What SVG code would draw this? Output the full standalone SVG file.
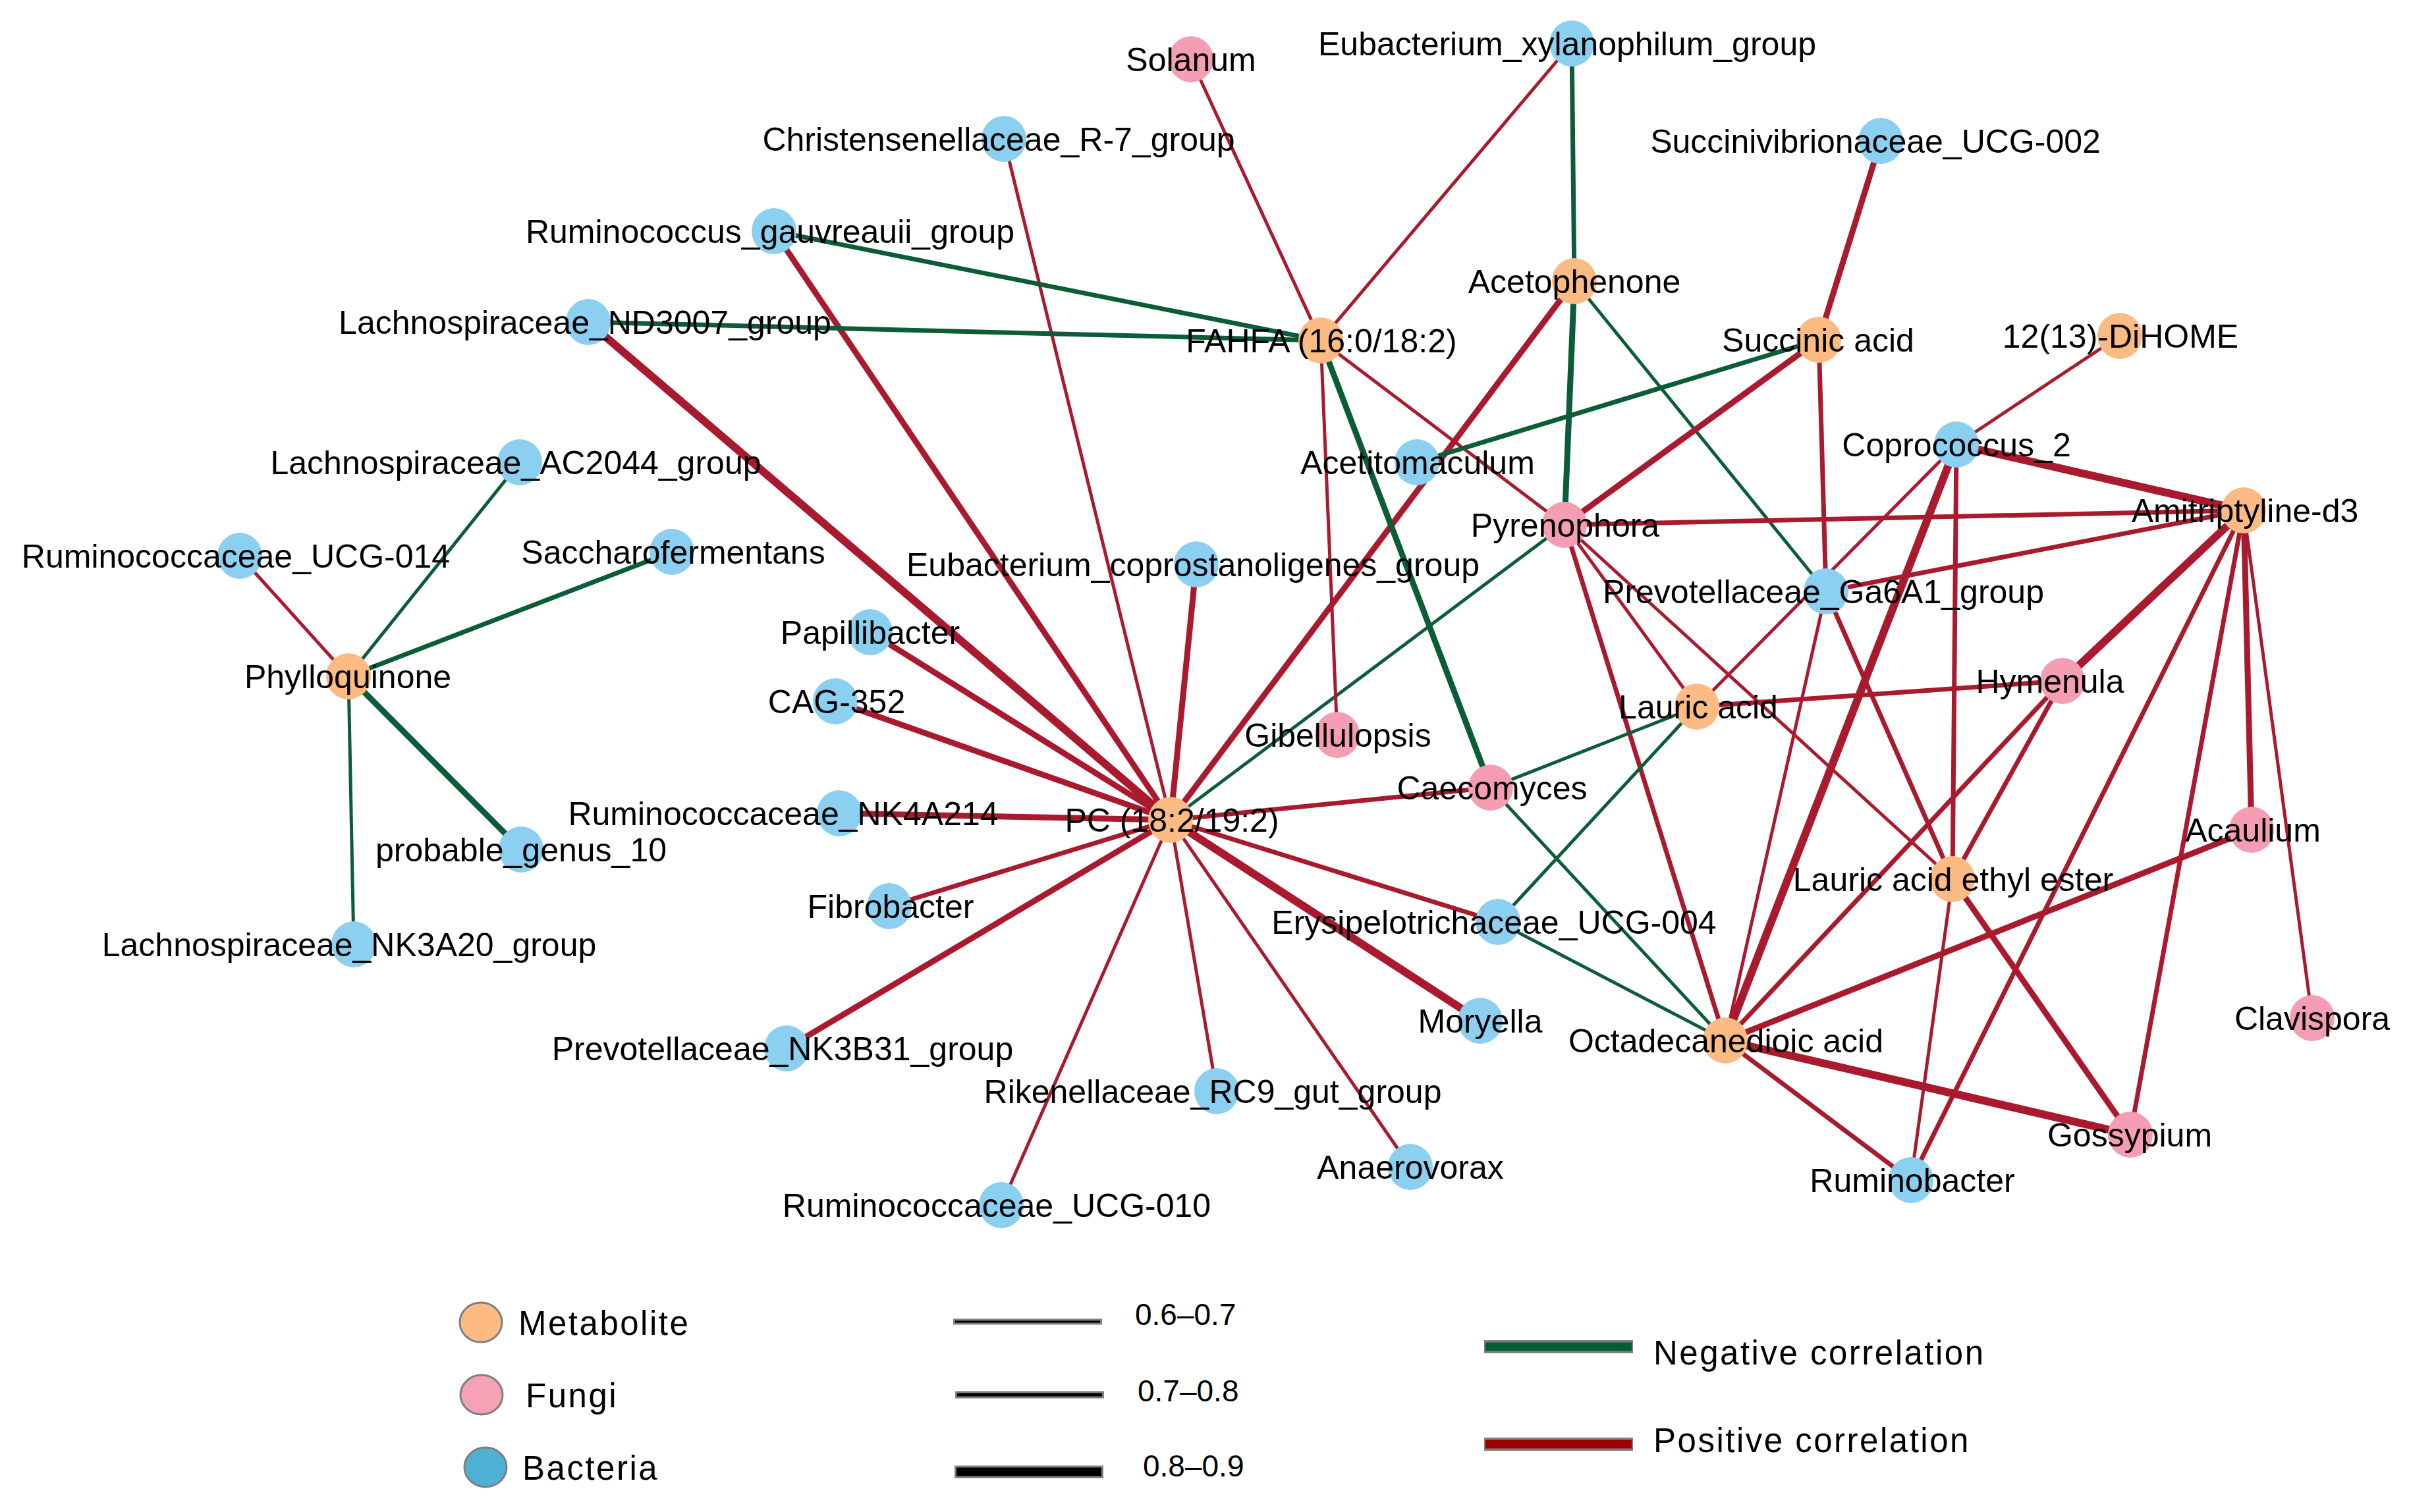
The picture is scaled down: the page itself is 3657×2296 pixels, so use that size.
<svg xmlns="http://www.w3.org/2000/svg" width="3657" height="2296" viewBox="0 0 3657 2296">
<style>
.e{fill:none;stroke-linecap:butt}
.p{stroke:#AA1A2F}
.n{stroke:#0B5D37}
.w1{stroke-width:5}
.w2{stroke-width:7}
.w3{stroke-width:9}
.w4{stroke-width:12}
.met{fill:#FBBB82}
.fun{fill:#F59DB3}
.bac{fill:#8BCFF1}
text{font-family:"Liberation Sans",Arial,Helvetica,sans-serif;fill:#000}
.lbl{font-size:50px;text-anchor:middle}
.leg{font-size:51px;letter-spacing:2.5px}
.num{font-size:46px}
.lc{stroke:#7F7F7F;stroke-width:3}
</style>
<rect width="3657" height="2296" fill="#fff"/>
<g id="edges">
<line class="e p w4" x1="1777" y1="1245" x2="893" y2="489"/>
<line class="e p w3" x1="1777" y1="1245" x2="1175" y2="351"/>
<line class="e p w1" x1="1777" y1="1245" x2="1524" y2="211"/>
<line class="e p w3" x1="1777" y1="1245" x2="1816" y2="857"/>
<line class="e p w3" x1="1777" y1="1245" x2="1321" y2="960"/>
<line class="e p w3" x1="1777" y1="1245" x2="1268" y2="1065"/>
<line class="e p w3" x1="1777" y1="1245" x2="1274" y2="1235"/>
<line class="e p w2" x1="1777" y1="1245" x2="1350" y2="1376"/>
<line class="e p w3" x1="1777" y1="1245" x2="1194" y2="1592"/>
<line class="e p w1" x1="1777" y1="1245" x2="1520" y2="1830"/>
<line class="e p w1" x1="1777" y1="1245" x2="1847" y2="1657"/>
<line class="e p w1" x1="1777" y1="1245" x2="2141" y2="1772"/>
<line class="e p w4" x1="1777" y1="1245" x2="2247" y2="1550"/>
<line class="e p w2" x1="1777" y1="1245" x2="2274" y2="1400"/>
<line class="e p w2" x1="1777" y1="1245" x2="2263" y2="1196"/>
<line class="e n w1" x1="1777" y1="1245" x2="2375" y2="797"/>
<line class="e p w3" x1="1777" y1="1245" x2="2390" y2="427"/>
<line class="e p w1" x1="2005" y1="517" x2="1808" y2="90"/>
<line class="e p w1" x1="2005" y1="517" x2="2386" y2="66"/>
<line class="e n w2" x1="2005" y1="517" x2="1175" y2="351"/>
<line class="e n w2" x1="2005" y1="517" x2="893" y2="489"/>
<line class="e p w1" x1="2005" y1="517" x2="2030" y2="1116"/>
<line class="e n w3" x1="2005" y1="517" x2="2263" y2="1196"/>
<line class="e p w1" x1="2005" y1="517" x2="2375" y2="797"/>
<line class="e n w2" x1="2390" y1="427" x2="2386" y2="66"/>
<line class="e n w3" x1="2390" y1="427" x2="2375" y2="797"/>
<line class="e n w1" x1="2390" y1="427" x2="2772" y2="898"/>
<line class="e p w3" x1="2761" y1="516" x2="2855" y2="214"/>
<line class="e n w2" x1="2761" y1="516" x2="2151" y2="702"/>
<line class="e p w3" x1="2761" y1="516" x2="2375" y2="797"/>
<line class="e p w2" x1="2761" y1="516" x2="2772" y2="898"/>
<line class="e p w1" x1="3218" y1="510" x2="2970" y2="675"/>
<line class="e p w4" x1="2970" y1="675" x2="3406" y2="775"/>
<line class="e p w1" x1="2970" y1="675" x2="2576" y2="1073"/>
<line class="e p w4" x1="2970" y1="675" x2="2619" y2="1580"/>
<line class="e p w2" x1="2970" y1="675" x2="2964" y2="1335"/>
<line class="e p w2" x1="3406" y1="775" x2="2375" y2="797"/>
<line class="e p w2" x1="3406" y1="775" x2="2772" y2="898"/>
<line class="e p w4" x1="3406" y1="775" x2="3131" y2="1034"/>
<line class="e p w3" x1="3406" y1="775" x2="3418" y2="1260"/>
<line class="e p w1" x1="3406" y1="775" x2="3510" y2="1546"/>
<line class="e p w2" x1="3406" y1="775" x2="3234" y2="1723"/>
<line class="e p w2" x1="3406" y1="775" x2="2901" y2="1792"/>
<line class="e p w2" x1="3131" y1="1034" x2="2576" y2="1073"/>
<line class="e p w2" x1="3131" y1="1034" x2="2619" y2="1580"/>
<line class="e p w2" x1="3131" y1="1034" x2="2964" y2="1335"/>
<line class="e p w2" x1="2375" y1="797" x2="2619" y2="1580"/>
<line class="e p w1" x1="2375" y1="797" x2="2576" y2="1073"/>
<line class="e p w1" x1="2375" y1="797" x2="2964" y2="1335"/>
<line class="e p w1" x1="2772" y1="898" x2="2619" y2="1580"/>
<line class="e p w2" x1="2772" y1="898" x2="2964" y2="1335"/>
<line class="e p w1" x1="2964" y1="1335" x2="2901" y2="1792"/>
<line class="e p w3" x1="2964" y1="1335" x2="3234" y2="1723"/>
<line class="e p w3" x1="2619" y1="1580" x2="3418" y2="1260"/>
<line class="e p w4" x1="2619" y1="1580" x2="3234" y2="1723"/>
<line class="e p w2" x1="2619" y1="1580" x2="2901" y2="1792"/>
<line class="e n w1" x1="2619" y1="1580" x2="2263" y2="1196"/>
<line class="e n w1" x1="2619" y1="1580" x2="2274" y2="1400"/>
<line class="e n w1" x1="2576" y1="1073" x2="2263" y2="1196"/>
<line class="e n w1" x1="2576" y1="1073" x2="2274" y2="1400"/>
<line class="e p w1" x1="529" y1="1027" x2="364" y2="844"/>
<line class="e n w1" x1="529" y1="1027" x2="789" y2="702"/>
<line class="e n w2" x1="529" y1="1027" x2="1020" y2="838"/>
<line class="e n w3" x1="529" y1="1027" x2="791" y2="1290"/>
<line class="e n w1" x1="529" y1="1027" x2="537" y2="1434"/>
</g>
<g id="n_solanum"><ellipse class="fun" cx="1808" cy="90" rx="34" ry="35"/><text class="lbl" x="1808" y="108">Solanum</text></g>
<g id="n_eubxyl"><ellipse class="bac" cx="2386" cy="66" rx="34" ry="35"/><text class="lbl" x="2379" y="84">Eubacterium_xylanophilum_group</text></g>
<g id="n_christ"><ellipse class="bac" cx="1524" cy="211" rx="34" ry="35"/><text class="lbl" x="1516" y="229">Christensenellaceae_R-7_group</text></g>
<g id="n_succinivib"><ellipse class="bac" cx="2855" cy="214" rx="34" ry="35"/><text class="lbl" x="2847" y="232">Succinivibrionaceae_UCG-002</text></g>
<g id="n_rumgauv"><ellipse class="bac" cx="1175" cy="351" rx="34" ry="35"/><text class="lbl" x="1169" y="369">Ruminococcus_gauvreauii_group</text></g>
<g id="n_aceto"><ellipse class="met" cx="2390" cy="427" rx="34" ry="35"/><text class="lbl" x="2390" y="445">Acetophenone</text></g>
<g id="n_nd3007"><ellipse class="bac" cx="893" cy="489" rx="34" ry="35"/><text class="lbl" x="888" y="507">Lachnospiraceae_ND3007_group</text></g>
<g id="n_fahfa"><ellipse class="met" cx="2005" cy="517" rx="34" ry="35"/><text class="lbl" x="2006" y="535">FAHFA (16:0/18:2)</text></g>
<g id="n_succinic"><ellipse class="met" cx="2761" cy="516" rx="34" ry="35"/><text class="lbl" x="2760" y="534">Succinic acid</text></g>
<g id="n_dihome"><ellipse class="met" cx="3218" cy="510" rx="34" ry="35"/><text class="lbl" x="3219" y="528">12(13)-DiHOME</text></g>
<g id="n_ac2044"><ellipse class="bac" cx="789" cy="702" rx="34" ry="35"/><text class="lbl" x="783" y="720">Lachnospiraceae_AC2044_group</text></g>
<g id="n_acetito"><ellipse class="bac" cx="2151" cy="702" rx="34" ry="35"/><text class="lbl" x="2152" y="720">Acetitomaculum</text></g>
<g id="n_copro"><ellipse class="bac" cx="2970" cy="675" rx="34" ry="35"/><text class="lbl" x="2970" y="693">Coprococcus_2</text></g>
<g id="n_amit"><ellipse class="met" cx="3406" cy="775" rx="34" ry="35"/><text class="lbl" x="3408" y="793">Amitriptyline-d3</text></g>
<g id="n_pyreno"><ellipse class="fun" cx="2375" cy="797" rx="34" ry="35"/><text class="lbl" x="2376" y="815">Pyrenophora</text></g>
<g id="n_ucg014"><ellipse class="bac" cx="364" cy="844" rx="34" ry="35"/><text class="lbl" x="358" y="862">Ruminococcaceae_UCG-014</text></g>
<g id="n_sacchar"><ellipse class="bac" cx="1020" cy="838" rx="34" ry="35"/><text class="lbl" x="1022" y="856">Saccharofermentans</text></g>
<g id="n_eubcopro"><ellipse class="bac" cx="1816" cy="857" rx="34" ry="35"/><text class="lbl" x="1811" y="875">Eubacterium_coprostanoligenes_group</text></g>
<g id="n_ga6a1"><ellipse class="bac" cx="2772" cy="898" rx="34" ry="35"/><text class="lbl" x="2768" y="916">Prevotellaceae_Ga6A1_group</text></g>
<g id="n_papill"><ellipse class="bac" cx="1321" cy="960" rx="34" ry="35"/><text class="lbl" x="1321" y="978">Papillibacter</text></g>
<g id="n_phyllo"><ellipse class="met" cx="529" cy="1027" rx="34" ry="35"/><text class="lbl" x="528" y="1045">Phylloquinone</text></g>
<g id="n_hymenula"><ellipse class="fun" cx="3131" cy="1034" rx="34" ry="35"/><text class="lbl" x="3112" y="1052">Hymenula</text></g>
<g id="n_cag352"><ellipse class="bac" cx="1268" cy="1065" rx="34" ry="35"/><text class="lbl" x="1270" y="1083">CAG-352</text></g>
<g id="n_lauric"><ellipse class="met" cx="2576" cy="1073" rx="34" ry="35"/><text class="lbl" x="2578" y="1091">Lauric acid</text></g>
<g id="n_gibel"><ellipse class="fun" cx="2030" cy="1116" rx="34" ry="35"/><text class="lbl" x="2031" y="1134">Gibellulopsis</text></g>
<g id="n_caeco"><ellipse class="fun" cx="2263" cy="1196" rx="34" ry="35"/><text class="lbl" x="2265" y="1214">Caecomyces</text></g>
<g id="n_nk4a214"><ellipse class="bac" cx="1274" cy="1235" rx="34" ry="35"/><text class="lbl" x="1189" y="1253">Ruminococcaceae_NK4A214</text></g>
<g id="n_pc"><ellipse class="met" cx="1777" cy="1245" rx="34" ry="35"/><text class="lbl" x="1779" y="1263">PC (18:2/19:2)</text></g>
<g id="n_probable"><ellipse class="bac" cx="791" cy="1290" rx="34" ry="35"/><text class="lbl" x="791" y="1308">probable_genus_10</text></g>
<g id="n_acaulium"><ellipse class="fun" cx="3418" cy="1260" rx="34" ry="35"/><text class="lbl" x="3420" y="1278">Acaulium</text></g>
<g id="n_laee"><ellipse class="met" cx="2964" cy="1335" rx="34" ry="35"/><text class="lbl" x="2965" y="1353">Lauric acid ethyl ester</text></g>
<g id="n_fibro"><ellipse class="bac" cx="1350" cy="1376" rx="34" ry="35"/><text class="lbl" x="1352" y="1394">Fibrobacter</text></g>
<g id="n_erysip"><ellipse class="bac" cx="2274" cy="1400" rx="34" ry="35"/><text class="lbl" x="2268" y="1418">Erysipelotrichaceae_UCG-004</text></g>
<g id="n_nk3a20"><ellipse class="bac" cx="537" cy="1434" rx="34" ry="35"/><text class="lbl" x="530" y="1452">Lachnospiraceae_NK3A20_group</text></g>
<g id="n_moryella"><ellipse class="bac" cx="2247" cy="1550" rx="34" ry="35"/><text class="lbl" x="2247" y="1568">Moryella</text></g>
<g id="n_clavispora"><ellipse class="fun" cx="3510" cy="1546" rx="34" ry="35"/><text class="lbl" x="3510" y="1564">Clavispora</text></g>
<g id="n_oct"><ellipse class="met" cx="2619" cy="1580" rx="34" ry="35"/><text class="lbl" x="2620" y="1598">Octadecanedioic acid</text></g>
<g id="n_nk3b31"><ellipse class="bac" cx="1194" cy="1592" rx="34" ry="35"/><text class="lbl" x="1188" y="1610">Prevotellaceae_NK3B31_group</text></g>
<g id="n_riken"><ellipse class="bac" cx="1847" cy="1657" rx="34" ry="35"/><text class="lbl" x="1841" y="1675">Rikenellaceae_RC9_gut_group</text></g>
<g id="n_gossypium"><ellipse class="fun" cx="3234" cy="1723" rx="34" ry="35"/><text class="lbl" x="3233" y="1741">Gossypium</text></g>
<g id="n_anaero"><ellipse class="bac" cx="2141" cy="1772" rx="34" ry="35"/><text class="lbl" x="2141" y="1790">Anaerovorax</text></g>
<g id="n_ruminobacter"><ellipse class="bac" cx="2901" cy="1792" rx="34" ry="35"/><text class="lbl" x="2903" y="1810">Ruminobacter</text></g>
<g id="n_ucg010"><ellipse class="bac" cx="1520" cy="1830" rx="34" ry="35"/><text class="lbl" x="1513" y="1848">Ruminococcaceae_UCG-010</text></g>
<g id="legend">
<ellipse class="lc" cx="730" cy="2008" rx="32" ry="30" fill="#FDBB84"/>
<text class="leg" x="787" y="2027">Metabolite</text>
<ellipse class="lc" cx="731" cy="2118" rx="32" ry="30" fill="#F7A1B5"/>
<text class="leg" x="798" y="2137">Fungi</text>
<ellipse class="lc" cx="737" cy="2228" rx="32" ry="30" fill="#4DB1D3"/>
<text class="leg" x="793" y="2247">Bacteria</text>
<line x1="1447" y1="2007" x2="1673" y2="2007" stroke="#808080" stroke-width="9"/>
<line x1="1450" y1="2007" x2="1670" y2="2007" stroke="#000" stroke-width="3"/>
<text class="num" x="1723" y="2012">0.6–0.7</text>
<line x1="1450" y1="2118" x2="1676" y2="2118" stroke="#808080" stroke-width="11"/>
<line x1="1453" y1="2118" x2="1673" y2="2118" stroke="#000" stroke-width="5"/>
<text class="num" x="1727" y="2128">0.7–0.8</text>
<line x1="1449" y1="2235" x2="1675" y2="2235" stroke="#808080" stroke-width="19"/>
<line x1="1452" y1="2235" x2="1672" y2="2235" stroke="#000" stroke-width="13"/>
<text class="num" x="1735" y="2242">0.8–0.9</text>
<line x1="2253" y1="2045" x2="2479" y2="2045" stroke="#808080" stroke-width="20"/>
<line x1="2255" y1="2045" x2="2477" y2="2045" stroke="#005E32" stroke-width="13"/>
<text class="leg" x="2510" y="2072">Negative correlation</text>
<line x1="2253" y1="2193" x2="2479" y2="2193" stroke="#808080" stroke-width="20"/>
<line x1="2255" y1="2193" x2="2477" y2="2193" stroke="#990000" stroke-width="13"/>
<text class="leg" x="2510" y="2205">Positive correlation</text>
</g>
</svg>
